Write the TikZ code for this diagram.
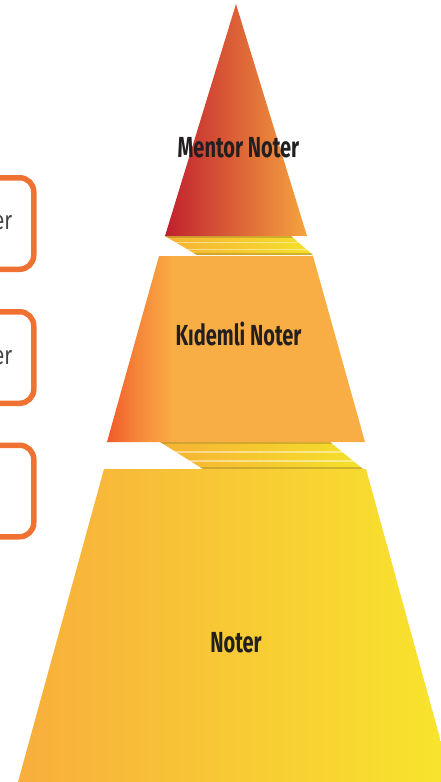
\documentclass[tikz,border=0pt]{standalone}
\usepackage{fontspec}
\newfontfamily\tierfont[FakeStretch=0.69]{Fira Sans}
\newfontfamily\boxfont[FakeStretch=0.78]{Fira Sans}

\definecolor{mentorL}{HTML}{C1202F}
\definecolor{mentorR}{HTML}{F6A33F}
\definecolor{kidemL}{HTML}{F15A2B}
\definecolor{kidemM}{HTML}{F5873A}
\definecolor{kidemR}{HTML}{F9AE45}
\definecolor{noterL}{HTML}{F8AE3D}
\definecolor{noterR}{HTML}{F8E52C}
\definecolor{bandL}{HTML}{F6B234}
\definecolor{bandR}{HTML}{F5E12A}
\definecolor{bandEdge}{HTML}{B4962C}
\definecolor{boxOrange}{HTML}{F07232}
\definecolor{inkDark}{HTML}{231F20}

\pgfdeclarehorizontalshading{kidemshade}{100bp}{color(0bp)=(kidemL); color(25bp)=(kidemL); color(31bp)=(kidemM); color(38bp)=(kidemR); color(100bp)=(kidemR)}

\tikzset{
  tierlabel/.style={font=\tierfont\bfseries\fontsize{29}{31}\selectfont, text=inkDark, inner sep=0pt},
  sidebox/.style={draw=boxOrange, line width=5.5pt, rounded corners=14pt,
    minimum width=90pt, minimum height=91.5pt, inner sep=0pt},
  sidetext/.style={font=\boxfont\fontsize{26}{28}\selectfont, text=inkDark!85, inner sep=0pt},
  bandstripe/.style={white, opacity=.45, line width=1.2pt},
  bandrim/.style={bandEdge, opacity=.6, line width=2pt}
}

\begin{document}
\begin{tikzpicture}[x=1pt, y=-1pt, line join=round]

    % pixel frame of the reference: 441 x 782, y grows downwards
    \useasboundingbox (0,0) rectangle (441,782);

    % ── Side boxes (cut off at the left border) ─────────────────────────────
    \node[sidebox, anchor=east] (box1) at (36.5,223.5) {};
    \node[sidebox, anchor=east] (box2) at (36.5,357.5) {};
    \node[sidebox, anchor=east] (box3) at (36.5,491) {};

    \node[sidetext, anchor=base east] (boxtext1) at (12.5,229) {er};
    \node[sidetext, anchor=base east] (boxtext2) at (12.5,364) {er};

    % ── Bands between the tiers ─────────────────────────────────────────────
    \begin{scope}
        \clip (165,236) -- (291,236) -- (313,255) -- (197,255) -- cycle;
        \shade[left color=bandL, right color=bandR]
            (165,236) rectangle (313,255);
        \draw[bandrim] (160,237) -- (320,237);
        \draw[bandrim] (160,254) -- (320,254);
        \draw[bandstripe] (160,242.5) -- (320,242.5);
        \draw[bandstripe] (160,249.5) -- (320,249.5);
    \end{scope}

    \begin{scope}
        \clip (160,442) -- (330,442) -- (363,469) -- (203,469) -- cycle;
        \shade[left color=bandL, right color=bandR]
            (160,442) rectangle (363,469);
        \draw[bandrim] (155,443) -- (370,443);
        \draw[bandrim] (155,468) -- (370,468);
        \draw[bandstripe] (155,452) -- (370,452);
        \draw[bandstripe] (155,461) -- (370,461);
    \end{scope}

    % ── Tiers ───────────────────────────────────────────────────────────────
    % top: Mentor Noter
    \shade[left color=mentorL, right color=mentorR]
        (236,4) -- (307,236) -- (165,236) -- cycle;

    % middle: Kidemli Noter
    \shade[shading=kidemshade]
        (159,256) -- (313,256) -- (365,442) -- (107,442) -- cycle;

    % bottom: Noter
    \shade[left color=noterL, right color=noterR]
        (104,469) -- (366,469) -- (452,782) -- (18,782) -- cycle;

    % ── Labels ──────────────────────────────────────────────────────────────
    \node[tierlabel, anchor=base] (mentor) at (238.5,157) {Mentor Noter};
    \node[tierlabel, anchor=base] (kidemli) at (238.5,345) {Kıdemli Noter};
    \node[tierlabel, anchor=base] (noter) at (236,652) {Noter};

\end{tikzpicture}
\end{document}
